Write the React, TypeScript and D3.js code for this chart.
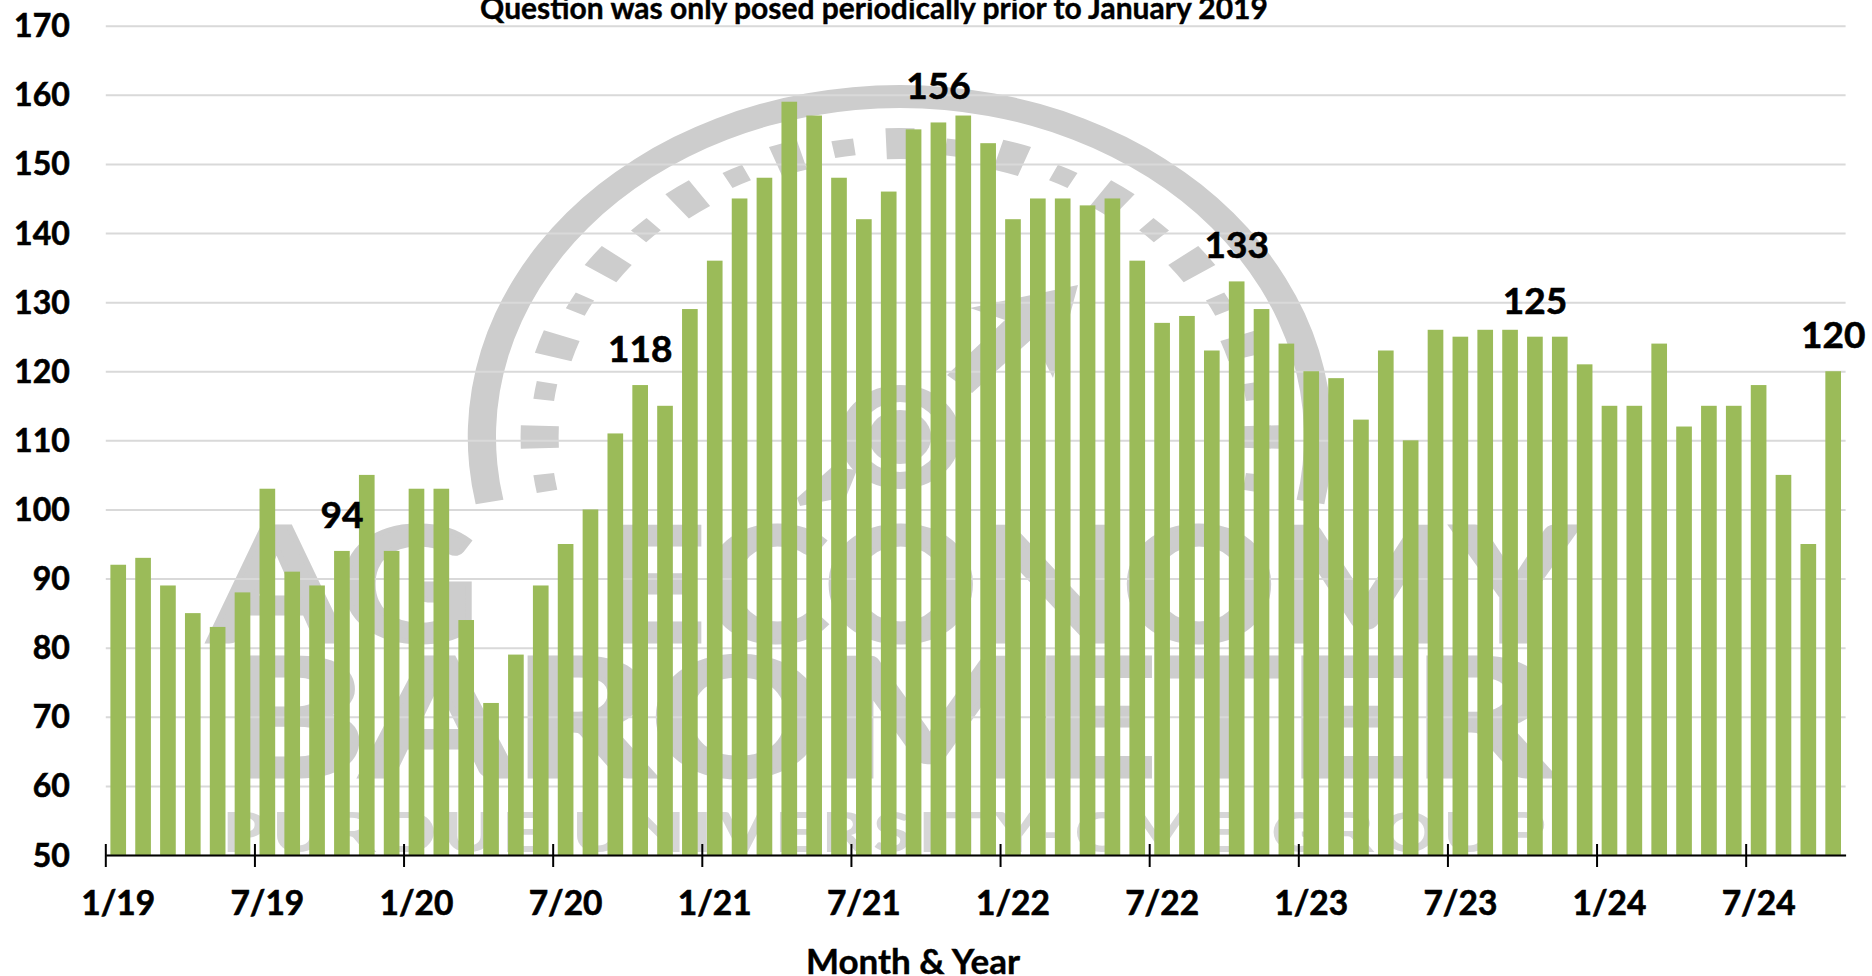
import React, { useEffect, useRef } from 'react';
import * as d3 from 'd3';

const months = [
  '1/19', '2/19', '3/19', '4/19', '5/19', '6/19', '7/19', '8/19', '9/19', '10/19', '11/19', '12/19',
  '1/20', '2/20', '3/20', '4/20', '5/20', '6/20', '7/20', '8/20', '9/20', '10/20', '11/20', '12/20',
  '1/21', '2/21', '3/21', '4/21', '5/21', '6/21', '7/21', '8/21', '9/21', '10/21', '11/21', '12/21',
  '1/22', '2/22', '3/22', '4/22', '5/22', '6/22', '7/22', '8/22', '9/22', '10/22', '11/22', '12/22',
  '1/23', '2/23', '3/23', '4/23', '5/23', '6/23', '7/23', '8/23', '9/23', '10/23', '11/23', '12/23',
  '1/24', '2/24', '3/24', '4/24', '5/24', '6/24', '7/24', '8/24', '9/24', '10/24',
];

const values = [
  92, 93, 89, 85, 83, 88, 103, 91, 89, 94, 105, 94,
  103, 103, 84, 72, 79, 89, 95, 100, 111, 118, 115, 129,
  136, 145, 148, 159, 157, 148, 142, 146, 155, 156, 157, 153,
  142, 145, 145, 144, 145, 136, 127, 128, 123, 133, 129, 124,
  120, 119, 113, 123, 110, 126, 125, 126, 126, 125, 125, 121,
  115, 115, 124, 112, 115, 115, 118, 105, 95, 120,
];

const xTickLabels = ['1/19', '7/19', '1/20', '7/20', '1/21', '7/21', '1/22', '7/22', '1/23', '7/23', '1/24', '7/24'];
const yTicks = [50, 60, 70, 80, 90, 100, 110, 120, 130, 140, 150, 160, 170];
const labelledMonths = ['10/19', '10/20', '10/21', '10/22', '10/23', '10/24'];

const WIDTH = 1872;
const HEIGHT = 976;
const FONT = 'Lato, sans-serif';
const LOGO_GREY = '#cdcdcd';

// background logo, sits behind the gridlines
const drawLogo = (svg: d3.Selection<SVGSVGElement, unknown, null, undefined>) => {
  const logo = svg.append('g').attr('fill', LOGO_GREY);
  const rad = (deg: number) => (deg * Math.PI) / 180;

  // the gauge was stretched sideways in the source image
  const gauge = logo.append('g').attr('transform', 'translate(900,437) scale(1.228,1)');
  const arc = d3.arc<any>();

  gauge.append('path').attr('d', arc({
    innerRadius: 329, outerRadius: 352, startAngle: rad(-101), endAngle: rad(101),
  }));

  // dial marks, every 9 degrees with long and short alternating
  d3.range(-99, 100, 9).forEach(a => {
    const long = Math.abs(a) % 18 === 0;
    const half = long ? 2.2 : 1.7;
    gauge.append('path').attr('d', arc({
      innerRadius: long ? 278 : 284,
      outerRadius: long ? 309 : 301,
      startAngle: rad(a - half),
      endAngle: rad(a + half),
    }));
  });

  // hub
  const hub = logo.append('g').attr('transform', 'translate(900,437) scale(1.16,1)');
  hub.append('circle').attr('r', 27);
  hub.append('circle').attr('r', 43.5).attr('fill', 'none').attr('stroke', LOGO_GREY).attr('stroke-width', 17);

  // needle
  logo.append('path').attr('d', 'M1078,285 L970,308 L1005,320 L947,375 L972,393 L1033,338 L1053,378 Z');
  logo.append('path').attr('d', 'M797,498 L832,467 L857,470 L846,497 L800,506 Z');

  const word = (text: string, x: number, y: number, len: number, size: number, stroke: number) =>
    logo.append('text')
      .attr('x', x)
      .attr('y', y)
      .attr('textLength', len)
      .attr('lengthAdjust', 'spacingAndGlyphs')
      .attr('font-family', FONT)
      .attr('font-weight', 700)
      .attr('font-size', size)
      .attr('stroke', LOGO_GREY)
      .attr('stroke-width', stroke)
      .text(text);

  word('AG', 210, 641, 268, 158, 5);
  word('ECONOMY', 597, 641, 979, 158, 5);
  word('BAROMETER', 222, 776, 1330, 162, 5);
  word('PURDUE UNIVERSITY-CME GROUP', 222, 852, 1330, 56, 0)
    .attr('letter-spacing', 5)
    .attr('fill', '#d6d6d6');
};

export default function App() {
  const ref = useRef<SVGSVGElement>(null);

  useEffect(() => {
    if (!ref.current) return;
    const svg = d3.select(ref.current);
    svg.selectAll('*').remove();

    const x = d3.scaleBand<string>()
      .domain(months)
      .range([105.8, 1845.6])
      .paddingInner(0.37)
      .paddingOuter(0.185);

    const y = d3.scaleLinear()
      .domain([50, 170])
      .range([855, 25.7]);

    svg.append('rect').attr('width', WIDTH).attr('height', HEIGHT).attr('fill', '#ffffff');

    drawLogo(svg);

    // 1) Y AXIS AND GRIDLINES
    const yAxis = svg.append('g')
      .attr('transform', 'translate(105.8,0)')
      .call(d3.axisLeft(y).tickValues(yTicks).tickSize(-1739.8).tickPadding(36));
    yAxis.select('.domain').remove();
    yAxis.selectAll('line').attr('stroke', '#d9d9d9').attr('stroke-width', 2);
    yAxis.selectAll('text')
      .attr('font-family', FONT)
      .attr('font-weight', 700)
      .attr('font-size', 32)
      .attr('fill', '#000')
      .attr('stroke', '#000')
      .attr('stroke-width', 0.6)
      .attr('dy', 11);

    // 2) BARS
    svg.append('g')
      .selectAll('rect')
      .data(values)
      .enter()
      .append('rect')
      .attr('x', (d, i) => x(months[i]) || 0)
      .attr('y', d => y(d))
      .attr('width', x.bandwidth())
      .attr('height', d => y(50) - y(d))
      .attr('fill', '#9bbb59');

    // 3) X AXIS, ticks sit between the bars and labels under the first bar of each group
    const xAxis = svg.append('g')
      .attr('transform', `translate(0,${y(50)})`)
      .call(d3.axisBottom(x).tickValues(xTickLabels).tickSizeOuter(0).tickPadding(0));
    xAxis.select('.domain').attr('stroke', '#000').attr('stroke-width', 2);
    xAxis.selectAll('line')
      .attr('stroke', '#000')
      .attr('stroke-width', 2)
      .attr('x1', -x.step() / 2)
      .attr('x2', -x.step() / 2)
      .attr('y1', -11)
      .attr('y2', 12);
    xAxis.selectAll('text')
      .attr('font-family', FONT)
      .attr('font-weight', 700)
      .attr('font-size', 33.5)
      .attr('fill', '#000')
      .attr('stroke', '#000')
      .attr('stroke-width', 0.6)
      .attr('y', 60)
      .attr('dy', 0);

    // 4) VALUE LABELS
    svg.append('g')
      .selectAll('text')
      .data(labelledMonths)
      .enter()
      .append('text')
      .attr('x', d => (x(d) || 0) + x.bandwidth() / 2)
      .attr('y', d => y(values[months.indexOf(d)]) - 23)
      .attr('text-anchor', 'middle')
      .attr('font-family', FONT)
      .attr('font-weight', 700)
      .attr('font-size', 37)
      .attr('fill', '#000')
      .attr('stroke', '#000')
      .attr('stroke-width', 0.6)
      .text(d => values[months.indexOf(d)]);

    // 5) TITLES
    svg.append('text')
      .attr('x', 874)
      .attr('y', 18.5)
      .attr('text-anchor', 'middle')
      .attr('font-family', FONT)
      .attr('font-weight', 700)
      .attr('font-size', 30)
      .attr('fill', '#000')
      .attr('stroke', '#000')
      .attr('stroke-width', 0.4)
      .text('Question was only posed periodically prior to January 2019');

    svg.append('text')
      .attr('x', 913)
      .attr('y', 974)
      .attr('text-anchor', 'middle')
      .attr('font-family', FONT)
      .attr('font-weight', 700)
      .attr('font-size', 35)
      .attr('fill', '#000')
      .attr('stroke', '#000')
      .attr('stroke-width', 0.4)
      .text('Month & Year');
  }, []);

  return (
    <svg
      ref={ref}
      width={WIDTH}
      height={HEIGHT}
      style={{ position: 'absolute', left: 0, top: 0, display: 'block' }}
    />
  );
}
